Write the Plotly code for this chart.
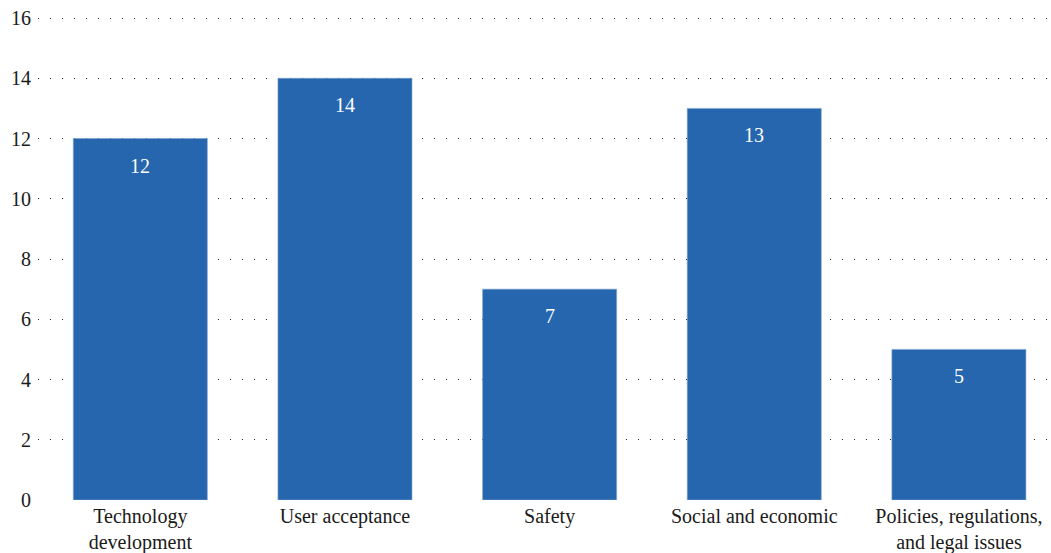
import plotly.graph_objects as go

categories = ["Technology<br>development", "User acceptance", "Safety",
              "Social and economic", "Policies, regulations,<br>and legal issues"]
values = [12, 14, 7, 13, 5]
y_ticks = [0, 2, 4, 6, 8, 10, 12, 14, 16]

FONT = "Liberation Serif"
BAR = "#2566AE"
FS = 20

fig = go.Figure()
fig.add_trace(go.Bar(
    x=list(range(len(categories))), y=values, width=0.655,
    marker=dict(color=BAR, line=dict(color="#7FA3CF", width=0.6)),
    hoverinfo="skip",
))
for i, v in enumerate(values):
    fig.add_annotation(x=i, y=v, text=str(v), showarrow=False, yanchor="middle",
                       yshift=-27, font=dict(family=FONT, size=FS, color="white"))

fig.update_layout(
    width=1051, height=553,
    margin=dict(l=38, r=0, t=9, b=53),
    paper_bgcolor="white", plot_bgcolor="white",
    showlegend=False,
    font=dict(family=FONT, size=FS, color="#1a1a1a"),
    xaxis=dict(range=[-0.5, 4.45], tickmode="array", tickvals=list(range(len(categories))),
               ticktext=categories, showgrid=False, zeroline=False, showline=False,
               ticks="", automargin=False, ticklabelstandoff=2,
               tickfont=dict(family=FONT, size=FS, color="#1a1a1a")),
    yaxis=dict(range=[0, 16.3], tickmode="array", tickvals=y_ticks, showgrid=True,
               gridcolor="#222222", gridwidth=1, griddash="1px,11px",
               zeroline=False, showline=False, ticks="", automargin=False,
               ticklabelstandoff=6,
               tickfont=dict(family=FONT, size=FS, color="#1a1a1a")),
)
fig.write_html("out.html", config={"displayModeBar": False},
               post_script="document.body.style.margin='0px';")
